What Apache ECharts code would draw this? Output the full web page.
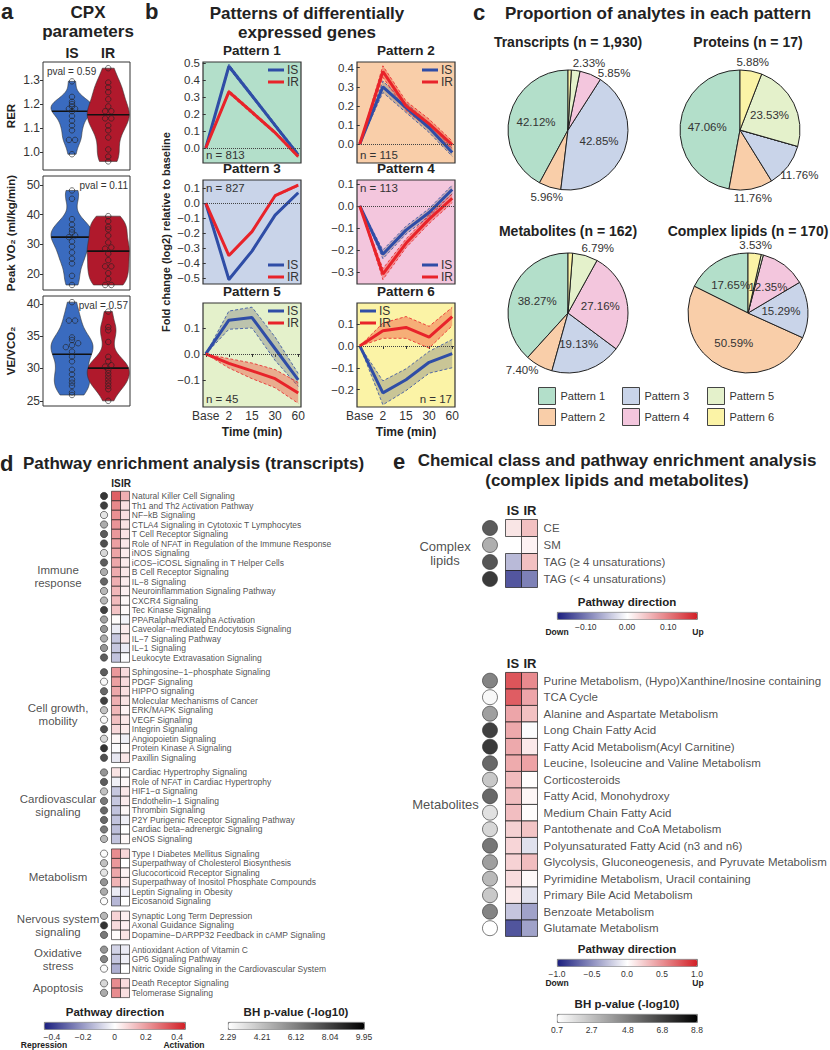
<!DOCTYPE html>
<html>
<head>
<meta charset="utf-8">
<title>Exercise multi-omics figure</title>
<script src="https://cdn.jsdelivr.net/npm/echarts@6.0.0/dist/echarts.min.js"></script>
<style>
  html, body { margin: 0; padding: 0; background: #fff; }
  #page { position: relative; width: 830px; height: 1050px; }
  .layer { position: absolute; left: 0; top: 0; width: 830px; height: 1050px; }
</style>
</head>
<body>
<div id="page">
  <div class="layer" id="panelA"></div>
  <div class="layer" id="panelB"></div>
  <div class="layer" id="panelC"></div>
  <div class="layer" id="panelD"></div>
  <div class="layer" id="panelE"></div>
</div>
<script>
// ======== data: a (CPX parameters) ========
const cpxGroups = ['IS', 'IR'];
const rerIS = [1.295, 1.23, 1.21, 1.20, 1.19, 1.18, 1.18, 1.17, 1.15, 1.13, 1.11, 1.09, 1.05, 1.05, 0.99];
const rerIR = [1.35, 1.29, 1.27, 1.25, 1.22, 1.19, 1.17, 1.17, 1.14, 1.14, 1.11, 1.09, 1.06, 1.01, 0.98, 0.96];
const vo2IS = [48.2, 45.4, 38.5, 36.6, 35.0, 34.0, 33.0, 32.4, 30.9, 29.2, 27.2, 25.1, 23.5, 19.3, 16.2];
const vo2IR = [39.5, 37.8, 35.9, 35.0, 32.9, 30.6, 28.9, 28.5, 26.8, 24.6, 22.5, 22.5, 20.2, 18.2, 16.2, 16.2];
const veIS = [40.25, 37.4, 37.4, 34.8, 34.4, 33.9, 33.6, 33.3, 32.6, 31.8, 31.1, 29.8, 29.1, 28.3, 27.8, 27.3, 26.3, 25.9];
const veIR = [38.8, 36.4, 35.9, 34.1, 31.8, 31.1, 30.5, 30.3, 29.8, 29.3, 28.8, 28.3, 27.8, 27.3, 26.8, 25.0];
const cpxNames = ['RER', 'Peak VO\u2082 (ml/kg/min)', 'VE/VCO\u2082'];
const cpxPvals = ['pval = 0.59', 'pval = 0.11', 'pval = 0.57'];
const rerTicks = [1.0, 1.1, 1.2, 1.3];
const vo2Ticks = [20, 30, 40, 50];
const veTicks = [25, 30, 35, 40];

// ======== data: b (expression patterns) ========
const timeLabels = ['Base', '2', '15', '30', '60'];
const p1IS = [0, 0.48, 0.307, 0.133, -0.04],  p1ISse = [0, 0.012, 0.01, 0.01, 0.01];
const p1IR = [0, 0.33, 0.21, 0.09, -0.05],    p1IRse = [0, 0.01, 0.01, 0.008, 0.008];
const p2IS = [0, 0.30, 0.19, 0.085, -0.045],  p2ISse = [0, 0.03, 0.025, 0.025, 0.02];
const p2IR = [0, 0.38, 0.20, 0.105, -0.005],  p2IRse = [0, 0.03, 0.025, 0.025, 0.02];
const p3IS = [0, -0.51, -0.32, -0.08, 0.07],  p3ISse = [0, 0.006, 0.006, 0.006, 0.006];
const p3IR = [0, -0.35, -0.19, 0.05, 0.12],   p3IRse = [0, 0.006, 0.006, 0.006, 0.006];
const p4IS = [0, -0.22, -0.11, -0.03, 0.075], p4ISse = [0, 0.02, 0.018, 0.018, 0.02];
const p4IR = [0, -0.31, -0.17, -0.06, 0.035], p4IRse = [0, 0.025, 0.02, 0.02, 0.02];
const p5IS = [0, 0.13, 0.14, 0.02, -0.10],    p5ISse = [0, 0.035, 0.04, 0.045, 0.025];
const p5IR = [0, -0.036, -0.065, -0.095, -0.15], p5IRse = [0, 0.018, 0.03, 0.035, 0.04];
const p6IS = [0, -0.215, -0.155, -0.075, -0.035], p6ISse = [0, 0.055, 0.05, 0.05, 0.065];
const p6IR = [0, 0.07, 0.085, 0.04, 0.135],   p6IRse = [0, 0.035, 0.05, 0.05, 0.042];
const patternTitles = ['Pattern 1', 'Pattern 2', 'Pattern 3', 'Pattern 4', 'Pattern 5', 'Pattern 6'];
const patternN = ['n = 813', 'n = 115', 'n = 827', 'n = 113', 'n = 45', 'n = 17'];
const bYMin = [-0.088, -0.1, -0.54, -0.355, -0.204, -0.28];
const bYMax = [0.505, 0.43, 0.155, 0.118, 0.196, 0.197];
const bYTicks = [[0, 0.1, 0.2, 0.3, 0.4, 0.5], [0, 0.1, 0.2, 0.3, 0.4], [-0.5, -0.4, -0.3, -0.2, -0.1, 0, 0.1],
                 [-0.3, -0.2, -0.1, 0, 0.1], [-0.1, 0, 0.1], [-0.2, -0.1, 0, 0.1]];

// ======== data: c (proportions, %) ========
const patternNames = ['Pattern 1', 'Pattern 2', 'Pattern 3', 'Pattern 4', 'Pattern 5', 'Pattern 6'];
const transcriptsPct = [42.12, 5.96, 42.85, 5.85, 2.33, 0.88];
const proteinsPct    = [47.06, 11.76, 11.76, 0, 23.53, 5.88];
const metabolitesPct = [38.27, 7.40, 19.13, 27.16, 6.79, 1.23];
const lipidsPct      = [17.65, 50.59, 15.29, 12.35, 0.59, 3.53];
const pieTitles = ['Transcripts (n = 1,930)', 'Proteins (n = 17)', 'Metabolites (n = 162)', 'Complex lipids (n = 170)'];

// ======== data: d (pathway enrichment, transcripts) ========
const dGroups = ['Immune\nresponse', 'Cell growth,\nmobility', 'Cardiovascular\nsignaling', 'Metabolism',
                 'Nervous system\nsignaling', 'Oxidative\nstress', 'Apoptosis'];
const dGroupSizes = [18, 10, 8, 6, 3, 3, 2];
const dPathways = [
  'Natural Killer Cell Signaling', 'Th1 and Th2 Activation Pathway', 'NF\u2212kB Signaling',
  'CTLA4 Signaling in Cytotoxic T Lymphocytes', 'T Cell Receptor Signaling',
  'Role of NFAT in Regulation of the Immune Response', 'iNOS Signaling', 'iCOS\u2212iCOSL Signaling in T Helper Cells',
  'B Cell Receptor Signaling', 'IL\u22128 Signaling', 'Neuroinflammation Signaling Pathway', 'CXCR4 Signaling',
  'Tec Kinase Signaling', 'PPARalpha/RXRalpha Activation', 'Caveolar\u2212mediated Endocytosis Signaling',
  'IL\u22127 Signaling Pathway', 'IL\u22121 Signaling', 'Leukocyte Extravasation Signaling',
  'Sphingosine\u22121\u2212phosphate Signaling', 'PDGF Signaling', 'HIPPO signaling', 'Molecular Mechanisms of Cancer',
  'ERK/MAPK Signaling', 'VEGF Signaling', 'Integrin Signaling', 'Angiopoietin Signaling',
  'Protein Kinase A Signaling', 'Paxillin Signaling',
  'Cardiac Hypertrophy Signaling', 'Role of NFAT in Cardiac Hypertrophy', 'HIF1\u2212\u03b1 Signaling',
  'Endothelin\u22121 Signaling', 'Thrombin Signaling', 'P2Y Purigenic Receptor Signaling Pathway',
  'Cardiac beta\u2212adrenergic Signaling', 'eNOS Signaling',
  'Type I Diabetes Mellitus Signaling', 'Superpathway of Cholesterol Biosynthesis', 'Glucocorticoid Receptor Signaling',
  'Superpathway of Inositol Phosphate Compounds', 'Leptin Signaling in Obesity', 'Eicosanoid Signaling',
  'Synaptic Long Term Depression', 'Axonal Guidance Signaling', 'Dopamine\u2212DARPP32 Feedback in cAMP Signaling',
  'Antioxidant Action of Vitamin C', 'GP6 Signaling Pathway', 'Nitric Oxide Signaling in the Cardiovascular System',
  'Death Receptor Signaling', 'Telomerase Signaling'
];
const dIS = [0.40, 0.30, 0.28, 0.27, 0.26, 0.24, 0.23, 0.22, 0.21, 0.20, 0.18, 0.17, 0.15, 0.01, -0.05, -0.14, -0.14, -0.15,
             0.26, 0.24, 0.22, 0.20, 0.18, 0.16, 0.10, 0.02, -0.01, -0.06,
             0.07, -0.04, -0.14, -0.14, -0.15, -0.15, -0.16, -0.15,
             0.29, 0.26, 0.22, 0.19, -0.05, -0.18,
             0.11, 0.09, 0.01,
             -0.11, -0.14, -0.20,
             0.29, 0.29];
const dIR = [0.20, 0.08, 0.08, 0.07, 0.07, 0.06, 0.05, 0.05, 0.06, 0.05, 0.04, 0.02, 0.015, -0.03, 0.05, 0.06, -0.05, -0.01,
             0.09, 0.09, 0.08, 0.07, 0.03, 0.06, 0.05, -0.04, 0.015, 0.06,
             0.01, 0.02, 0.06, 0.05, 0.02, -0.04, 0.0, 0.02,
             0.10, 0.0, 0.03, 0.05, -0.04, 0.0,
             0.04, 0.04, 0.07,
             -0.05, -0.04, 0.0,
             0.09, 0.08];
const dPval = [9.8, 9.5, 3.3, 5.4, 8.4, 8.9, 3.8, 8.4, 5.4, 8.0, 5.0, 5.0, 9.4, 5.8, 6.3, 5.4, 6.3, 8.4,
               8.4, 2.5, 8.0, 9.4, 4.6, 2.5, 8.9, 3.8, 9.95, 8.9,
               6.3, 8.4, 4.6, 7.3, 8.0, 8.0, 7.3, 5.0,
               2.4, 4.6, 3.3, 6.3, 5.4, 2.4,
               5.0, 9.95, 7.3,
               6.3, 6.9, 2.4,
               3.8, 5.4];
const dDirTicks = [-0.4, -0.2, 0, 0.2, 0.4];
const dBhTicks = [2.29, 4.21, 6.12, 8.04, 9.95];

// ======== data: e (complex lipids and metabolites) ========
const lipidClasses = ['CE', 'SM', 'TAG (\u2265 4 unsaturations)', 'TAG (< 4 unsaturations)'];
const lipidIS = [0.025, null, -0.065, -0.16];
const lipidIR = [0.06, 0.012, 0.06, -0.12];
const lipidPval = [7.2, 3.9, 7.4, 8.5];
const metPathways = [
  'Purine Metabolism, (Hypo)Xanthine/Inosine containing', 'TCA Cycle', 'Alanine and Aspartate Metabolism',
  'Long Chain Fatty Acid', 'Fatty Acid Metabolism(Acyl Carnitine)', 'Leucine, Isoleucine and Valine Metabolism',
  'Corticosteroids', 'Fatty Acid, Monohydroxy', 'Medium Chain Fatty Acid', 'Pantothenate and CoA Metabolism',
  'Polyunsaturated Fatty Acid (n3 and n6)', 'Glycolysis, Gluconeogenesis, and Pyruvate Metabolism',
  'Pyrimidine Metabolism, Uracil containing', 'Primary Bile Acid Metabolism', 'Benzoate Metabolism', 'Glutamate Metabolism'
];
const metIS = [0.95, 0.90, 0.50, 0.48, 0.48, 0.47, 0.38, 0.37, 0.36, 0.26, 0.23, 0.25, 0.20, 0.13, -0.32, -0.95];
const metIR = [0.65, 0.50, 0.35, -0.02, 0.12, 0.52, 0.01, 0.05, 0.02, 0.33, -0.17, 0.37, 0.04, -0.17, -0.52, -0.52];
const metPval = [5.6, 1.0, 4.5, 8.3, 8.5, 6.7, 2.9, 6.7, 1.9, 2.3, 6.1, 4.5, 3.5, 2.9, 5.6, 0.7];
const lipidDirTicks = [-0.1, 0, 0.1];
const metDirTicks = [-1, -0.5, 0, 0.5, 1];
const eBhTicks = [0.7, 2.7, 4.8, 6.8, 8.8];

// ======== styles ========
const FONT = '"Liberation Sans", Arial, Helvetica, sans-serif';
const INK = '#222';
const MINUS = '\u2212';
const IS_FILL = '#3a6bbf', IR_FILL = '#b0192c';
const IS_LINE = '#2f4da6', IR_LINE = '#e8232a';
const IS_BAND = 'rgba(128,128,128,0.4)', IR_BAND = 'rgba(240,70,50,0.4)';
const patternColors = ['#b3dfca', '#f9cea9', '#c9d4e9', '#f3c6dd', '#e4f1cb', '#fbf3a6'];
const dirColors = ['#1b1f7f', '#ffffff', '#d21f26'];
const greyColors = ['#ffffff', '#000000'];

function signed(v, d){ return (v < 0 ? MINUS : '') + Math.abs(v).toFixed(d); }

function txt(x, y, text, size, opts){
  opts = opts || {};
  const font = (opts.bold ? 'bold ' : '') + size + 'px ' + FONT;
  return { type:'text', x:x, y:y, rotation: opts.rot || 0, silent:true, z:50,
    style:{ text:text, fill: opts.color || INK, font:font,
            align: opts.align || 'center', verticalAlign:'middle',
            textAlign: opts.align || 'center', textVerticalAlign:'middle' } };
}

function makeChart(id){ return echarts.init(document.getElementById(id), null, { renderer:'svg' }); }

// ======== helpers for violins ========
function quantile(s, p){ const h = (s.length - 1) * p, lo = Math.floor(h); return s[lo] + (h - lo) * (s[Math.min(lo + 1, s.length - 1)] - s[lo]); }
function median(v){ return quantile([...v].sort((a, b) => a - b), 0.5); }
function bwNrd0(v){
  const n = v.length, m = v.reduce((a, b) => a + b, 0) / n;
  const sd = Math.sqrt(v.reduce((a, b) => a + (b - m) * (b - m), 0) / (n - 1));
  const s = [...v].sort((a, b) => a - b);
  const iqr = quantile(s, 0.75) - quantile(s, 0.25);
  const lo = Math.min(sd, iqr / 1.34) || sd;
  return 0.9 * lo * Math.pow(n, -0.2);
}
function violinShape(v, adjust){
  const bw = bwNrd0(v) * adjust, lo = Math.min(...v), hi = Math.max(...v), N = 80;
  const pts = [];
  for (let i = 0; i <= N; i++){
    const y = lo + (hi - lo) * i / N;
    let d = 0; v.forEach(x => { const z = (y - x) / bw; d += Math.exp(-0.5 * z * z); });
    pts.push([y, d]);
  }
  const mx = Math.max(...pts.map(p => p[1]));
  return pts.map(p => [p[0], p[1] / mx]);
}
function densAt(shape, y){
  for (let i = 1; i < shape.length; i++){
    if (shape[i][0] >= y){ const t = (y - shape[i-1][0]) / (shape[i][0] - shape[i-1][0]); return shape[i-1][1] + t * (shape[i][1] - shape[i-1][1]); }
  }
  return shape[shape.length - 1][1];
}
// side-by-side offsets for points with nearly equal values
function dodge(vals, tol, step){
  const order = vals.map((v, i) => [v, i]).sort((a, b) => a[0] - b[0]);
  const off = new Array(vals.length).fill(0);
  let grp = [order[0]];
  const flush = () => { const k = grp.length; grp.forEach((g, j) => { off[g[1]] = (j - (k - 1) / 2) * step; }); };
  for (let i = 1; i < order.length; i++){
    if (order[i][0] - grp[grp.length - 1][0] < tol) grp.push(order[i]); else { flush(); grp = [order[i]]; }
  }
  flush();
  return off;
}

// ======== Panel a ========
function buildA(){
  const aTop = [62, 176, 296], aH = [108, 114, 110];
  const aMin = [0.924, 14.5, 24.2], aMax = [1.376, 53.1, 41.2];
  const sets = [[rerIS, rerIR], [vo2IS, vo2IR], [veIS, veIR]];
  const ticks = [rerTicks, vo2Ticks, veTicks];
  const fmt = [v => v.toFixed(1), v => String(v), v => String(v)];
  const HW = 0.58;
  const grid = [], xAxis = [], yAxis = [], series = [];
  sets.forEach((pair, k) => {
    grid.push({ left:43, width:87, top:aTop[k], height:aH[k], show:true, borderColor:'#333', borderWidth:1, backgroundColor:'transparent' });
    xAxis.push({ gridIndex:k, type:'value', min:0.2, max:2.6, show:false });
    yAxis.push({ gridIndex:k, type:'value', min:aMin[k], max:aMax[k], splitLine:{show:false}, axisLine:{show:false},
      axisTick:{ show:true, length:3, lineStyle:{color:'#333'}, customValues:ticks[k] },
      axisLabel:{ fontSize:12, color:'#333', margin:3, customValues:ticks[k], formatter:fmt[k] },
      name:cpxNames[k], nameLocation:'middle', nameGap:26,
      nameTextStyle:{ fontSize:11.5, fontWeight:'bold', color:INK } });
    pair.forEach((vals, g) => {
      const cx = g + 1;
      const fill = g === 0 ? IS_FILL : IR_FILL;
      const shape = violinShape(vals, 0.8);
      const med = median(vals);
      series.push({ type:'custom', name:cpxGroups[g], xAxisIndex:k, yAxisIndex:k, silent:true, clip:false, z:2,
        data:[[cx, med]],
        renderItem: (params, api) => {
          const right = shape.map(p => api.coord([cx + p[1] * HW, p[0]]));
          const left = shape.map(p => api.coord([cx - p[1] * HW, p[0]])).reverse();
          const dm = densAt(shape, med);
          const a = api.coord([cx - dm * HW, med]), b = api.coord([cx + dm * HW, med]);
          return { type:'group', children:[
            { type:'polygon', shape:{ points:right.concat(left) }, style:{ fill:fill, stroke:'#333', lineWidth:0.6 } },
            { type:'line', shape:{ x1:a[0], y1:a[1], x2:b[0], y2:b[1] }, style:{ stroke:'#111', lineWidth:1.6 } }
          ]};
        } });
      const off = dodge(vals, (aMax[k] - aMin[k]) * 0.02, 0.17);
      series.push({ type:'scatter', xAxisIndex:k, yAxisIndex:k, silent:true, z:3, symbol:'circle', symbolSize:5.5,
        itemStyle:{ color:'rgba(0,0,0,0)', borderColor:'#222', borderWidth:0.8 },
        data: vals.map((v, i) => [cx + off[i], v]) });
    });
  });
  const graphic = [
    txt(1, 11, 'a', 22, { bold:true, align:'left' }),
    txt(88, 12, 'CPX', 17, { bold:true }),
    txt(88, 31, 'parameters', 17, { bold:true }),
    txt(72, 53, cpxGroups[0], 14, { bold:true }),
    txt(108, 53, cpxGroups[1], 14, { bold:true }),
    txt(47, aTop[0] + 9, cpxPvals[0], 10, { align:'left', color:'#333' }),
    txt(128, aTop[1] + 9, cpxPvals[1], 10, { align:'right', color:'#333' }),
    txt(128, aTop[2] + 9, cpxPvals[2], 10, { align:'right', color:'#333' })
  ];
  makeChart('panelA').setOption({ animation:false, textStyle:{ fontFamily:FONT }, grid, xAxis, yAxis, series, graphic });
}

// ======== Panel b ========
function buildB(){
  const bLeft = [203, 357], bTop = [62, 180, 303], bH = [101, 104, 104], bW = 98;
  const isM = [p1IS, p2IS, p3IS, p4IS, p5IS, p6IS], isS = [p1ISse, p2ISse, p3ISse, p4ISse, p5ISse, p6ISse];
  const irM = [p1IR, p2IR, p3IR, p4IR, p5IR, p6IR], irS = [p1IRse, p2IRse, p3IRse, p4IRse, p5IRse, p6IRse];
  const legendPlace = ['tr', 'tr', 'br', 'br', 'tr', 'tl'];
  const nPlace = ['bl', 'bl', 'tl', 'tl', 'bl', 'br'];
  const grid = [], xAxis = [], yAxis = [], series = [], legend = [], graphic = [];
  const xTicks = [0, 1, 2, 3, 4];
  for (let k = 0; k < 6; k++){
    const col = k % 2, row = Math.floor(k / 2);
    const L = bLeft[col], T = bTop[row], H = bH[row];
    const bottomRow = row === 2;
    grid.push({ left:L, top:T, width:bW, height:H, show:true, backgroundColor:patternColors[k], borderColor:'#333', borderWidth:1.2 });
    xAxis.push({ gridIndex:k, type:'value', min:-0.12, max:4.12, splitLine:{show:false}, axisLine:{show:false},
      axisTick:{ show:bottomRow, length:3, lineStyle:{color:'#333'}, customValues:xTicks },
      axisLabel:{ show:bottomRow, customValues:xTicks, formatter:v => timeLabels[Math.round(v)], fontSize:12, color:'#333', margin:3 },
      name: bottomRow ? 'Time (min)' : '', nameLocation:'middle', nameGap:19,
      nameTextStyle:{ fontSize:12, fontWeight:'bold', color:INK } });
    yAxis.push({ gridIndex:k, type:'value', min:bYMin[k], max:bYMax[k], splitLine:{show:false}, axisLine:{show:false},
      axisTick:{ show:true, length:3, lineStyle:{color:'#333'}, customValues:bYTicks[k] },
      axisLabel:{ customValues:bYTicks[k], formatter:v => signed(v, 1), fontSize:11.5, color:'#333', margin:3 } });
    [[isM[k], isS[k], IS_BAND, IS_LINE], [irM[k], irS[k], IR_BAND, IR_LINE]].forEach(([m, s, band, line], g) => {
      const ribbon = { type:'custom', xAxisIndex:k, yAxisIndex:k, silent:true, z:2, clip:true, data:[[0, 0]],
        renderItem:(params, api) => {
          const up = m.map((v, i) => api.coord([i, v + s[i]]));
          const dn = m.map((v, i) => api.coord([i, v - s[i]]));
          return { type:'group', children:[
            { type:'polygon', shape:{ points:up.concat(dn.slice().reverse()) }, style:{ fill:band } },
            { type:'polyline', shape:{ points:up }, style:{ stroke:line, lineWidth:0.8, lineDash:[3, 2], fill:null } },
            { type:'polyline', shape:{ points:dn }, style:{ stroke:line, lineWidth:0.8, lineDash:[3, 2], fill:null } }
          ]};
        } };
      if (g === 0) ribbon.markLine = { silent:true, symbol:'none', label:{show:false}, animation:false,
        lineStyle:{ type:'dotted', color:'#444', width:1 }, data:[{ yAxis:0 }] };
      series.push(ribbon);
    });
    [[isM[k], IS_LINE, 'IS'], [irM[k], IR_LINE, 'IR']].forEach(([m, c, nm]) => {
      series.push({ type:'line', name:nm, xAxisIndex:k, yAxisIndex:k, silent:true, z:3, symbol:'none',
        itemStyle:{ color:c }, lineStyle:{ color:c, width:3 }, data:m.map((v, i) => [i, v]) });
    });
    // legend
    const lg = { data:['IS', 'IR'], orient:'vertical', selectedMode:false, icon:'rect', itemWidth:16, itemHeight:3,
      itemGap:0, padding:0, textStyle:{ fontSize:12, color:'#333', lineHeight:11, padding:[0, 0, 0, -2] } };
    const pl = legendPlace[k];
    if (pl[1] === 'r') lg.right = 830 - (L + bW) + 2; else lg.left = L + 3;
    lg.top = pl[0] === 't' ? T + 2 : T + H - 25;
    legend.push(lg);
    // n label and title
    const np = nPlace[k];
    const ny = np[0] === 't' ? T + 8 : T + H - 8;
    if (np[1] === 'l') graphic.push(txt(L + 3, ny, patternN[k], 11.5, { align:'left', color:'#333' }));
    else graphic.push(txt(L + bW - 3, ny, patternN[k], 11.5, { align:'right', color:'#333' }));
    graphic.push(txt(L + bW / 2, T - 12, patternTitles[k], 13.5, { bold:true }));
  }
  graphic.push(txt(145, 11, 'b', 22, { bold:true, align:'left' }));
  graphic.push(txt(307, 13, 'Patterns of differentially', 17, { bold:true }));
  graphic.push(txt(307, 32, 'expressed genes', 17, { bold:true }));
  graphic.push(txt(166, 232, 'Fold change (log2) relative to baseline', 11, { bold:true, rot:Math.PI / 2 }));
  makeChart('panelB').setOption({ animation:false, textStyle:{ fontFamily:FONT }, grid, xAxis, yAxis, series, legend, graphic });
}

// ======== Panel c ========
function buildC(){
  const pies = [transcriptsPct, proteinsPct, metabolitesPct, lipidsPct];
  const centers = [[568, 130], [740, 130], [568, 313], [748, 313]];
  const titlePos = [[568, 42], [748, 42], [568, 231], [748, 231]];
  const R = 60;
  // label placement: 'in' = inside slice, 'out' = outside, '' = none; nudge = degrees
  const place = [['in', 'out', 'in', 'out', 'out', ''], ['in', 'out', 'out', '', 'in', 'out'],
                 ['in', 'out', 'in', 'in', 'out', ''], ['in', 'in', 'in', 'in', '', 'out']];
  const nudge = [[0, 0, 0, -17, -10, 0], [0, 0, 0, 0, 0, 0], [0, -10, 0, 0, -8, 0], [0, 0, 0, 0, 0, 0]];
  const series = pies.map((vals, s) => {
    const total = vals.reduce((a, b) => a + b, 0);
    const cum = []; let acc = 0; vals.forEach(v => { cum.push(acc + v / 2); acc += v; });
    return { type:'pie', center:centers[s], radius:R, startAngle:90, clockwise:false, silent:true,
      avoidLabelOverlap:false, itemStyle:{ borderColor:'#222', borderWidth:1 },
      label:{ position:'inside', fontSize:11.5, color:'#333', formatter:p => p.value.toFixed(2) + '%' },
      labelLine:{ show:false },
      data: vals.map((v, i) => ({ name:patternNames[i], value:v, label:{ show: place[s][i] !== '' } })),
      labelLayout: params => {
        const i = params.dataIndex;
        if (place[s][i] !== 'out') return {};
        const th = (90 + cum[i] / total * 360 + nudge[s][i]) * Math.PI / 180;
        // labels near the top/bottom sit closer to the rim than those at the sides
        const dist = R + 8 + 8 * Math.abs(Math.cos(th));
        return { x: centers[s][0] + dist * Math.cos(th), y: centers[s][1] - dist * Math.sin(th),
                 align:'center', verticalAlign:'middle' };
      } };
  });
  const legendCols = [[0, 1], [2, 3], [4, 5]], legendLeft = [538, 622, 707];
  const legend = legendCols.map((c, j) => ({ data:c.map(i => patternNames[i]), orient:'vertical', left:legendLeft[j], top:387,
    icon:'rect', itemWidth:17, itemHeight:17, itemGap:3, padding:0, selectedMode:false,
    itemStyle:{ borderColor:'#444', borderWidth:1 }, textStyle:{ fontSize:11, color:'#333' } }));
  const graphic = [
    txt(473, 12, 'c', 22, { bold:true, align:'left' }),
    txt(658, 13, 'Proportion of analytes in each pattern', 17, { bold:true })
  ];
  pieTitles.forEach((t, s) => graphic.push(txt(titlePos[s][0], titlePos[s][1], t, 14, { bold:true })));
  makeChart('panelC').setOption({ animation:false, color:patternColors, textStyle:{ fontFamily:FONT }, series, legend, graphic });
}

// ======== Panel d ========
function buildD(){
  const GAP = 0.55;
  const rowY = [], rowGroup = [];
  dGroupSizes.forEach((n, g) => { for (let i = 0; i < n; i++){ rowY.push(rowY.length + g * GAP); rowGroup.push(g); } });
  const groupMid = dGroups.map((_, g) => { const ys = rowY.filter((y, r) => rowGroup[r] === g); return (ys[0] + ys[ys.length - 1]) / 2; });
  const cells = [];
  dPathways.forEach((_, r) => { cells.push([0, rowY[r], dIS[r]]); cells.push([1, rowY[r], dIR[r]]); });
  const grid = [
    { left:44, top:486.5, width:342, height:522.5 },
    { left:44, top:1022, width:141, height:7 },
    { left:228, top:1022, width:136, height:7 }
  ];
  const xAxis = [
    { gridIndex:0, type:'value', min:-8, max:30, show:false },
    { gridIndex:1, type:'value', min:-0.45, max:0.45, splitLine:{show:false}, axisLine:{show:false}, axisTick:{show:false},
      axisLabel:{ customValues:dDirTicks, formatter:v => v === 0 ? '0' : signed(v, 1), fontSize:8.5, color:'#333', margin:3 } },
    { gridIndex:2, type:'value', min:2.29, max:9.95, splitLine:{show:false}, axisLine:{show:false}, axisTick:{show:false},
      axisLabel:{ customValues:dBhTicks, formatter:v => v.toFixed(2), fontSize:8.5, color:'#333', margin:3 } }
  ];
  const yAxis = [
    { gridIndex:0, type:'value', min:-1, max:54, inverse:true, show:false },
    { gridIndex:1, type:'value', show:false }, { gridIndex:2, type:'value', show:false }
  ];
  const series = [
    { type:'scatter', silent:true, symbol:'rect', symbolSize:[9, 9.5], z:3,
      itemStyle:{ borderColor:'#222', borderWidth:0.8 }, data:cells },
    { type:'scatter', silent:true, symbol:'circle', symbolSize:7.3, z:3,
      itemStyle:{ borderColor:'#333', borderWidth:0.8 }, data:dPathways.map((_, r) => [-1.33, rowY[r], dPval[r]]) },
    { type:'scatter', silent:true, symbolSize:1, itemStyle:{ color:'rgba(0,0,0,0)' },
      label:{ show:true, position:'right', distance:0, formatter:'{b}', fontSize:8.5, color:INK },
      data:dPathways.map((nm, r) => ({ name:nm, value:[1.7, rowY[r]] })) },
    { type:'scatter', silent:true, symbolSize:1, itemStyle:{ color:'rgba(0,0,0,0)' },
      label:{ show:true, position:'inside', formatter:'{b}', fontSize:11.5, lineHeight:13, color:INK, align:'center' },
      data:dGroups.map((nm, g) => ({ name:nm, value:[-6.44, groupMid[g]] })) }
  ];
  const visualMap = [
    { type:'continuous', seriesIndex:0, dimension:2, min:-0.45, max:0.45, inRange:{ color:dirColors },
      orient:'horizontal', left:44, top:1022, itemWidth:7, itemHeight:141, calculable:false, hoverLink:false,
      padding:0, text:null, borderColor:'#555', borderWidth:0.8 },
    { type:'continuous', seriesIndex:1, dimension:2, min:2.29, max:9.95, inRange:{ color:greyColors },
      orient:'horizontal', left:228, top:1022, itemWidth:7, itemHeight:136, calculable:false, hoverLink:false,
      padding:0, text:null, borderColor:'#555', borderWidth:0.8 }
  ];
  const graphic = [
    txt(0, 463, 'd', 22, { bold:true, align:'left' }),
    txt(23, 463, 'Pathway enrichment analysis (transcripts)', 17, { bold:true, align:'left' }),
    txt(116, 483, 'IS', 10, { bold:true }),
    txt(126, 483, 'IR', 10, { bold:true }),
    txt(115, 1012, 'Pathway direction', 11.5, { bold:true }),
    txt(296, 1012, 'BH p-value (-log10)', 11.5, { bold:true }),
    txt(44, 1045, 'Repression', 8.5, { bold:true }),
    txt(184, 1045, 'Activation', 8.5, { bold:true })
  ];
  makeChart('panelD').setOption({ animation:false, textStyle:{ fontFamily:FONT }, grid, xAxis, yAxis, series, visualMap, graphic });
}

// ======== Panel e ========
function buildE(){
  const lipCells = [], metCells = [];
  lipidClasses.forEach((_, r) => {
    if (lipidIS[r] !== null) lipCells.push([0, r, lipidIS[r]]);
    if (lipidIR[r] !== null) lipCells.push([1, r, lipidIR[r]]);
  });
  metPathways.forEach((_, r) => { metCells.push([0, r, metIS[r]]); metCells.push([1, r, metIR[r]]); });
  const grid = [
    { left:417.5, top:511, width:320, height:85 },
    { left:417.5, top:664.2, width:320, height:280.5 },
    { left:557, top:612, width:140, height:7 },
    { left:557, top:959, width:140, height:7 },
    { left:557, top:1014, width:140, height:8 }
  ];
  const tickAxis = (gi, mn, mx, vals, d) => ({ gridIndex:gi, type:'value', min:mn, max:mx, splitLine:{show:false},
    axisLine:{show:false}, axisTick:{show:false},
    axisLabel:{ customValues:vals, formatter:v => signed(v, d), fontSize:8.5, color:'#333', margin:3 } });
  const xAxis = [
    { gridIndex:0, type:'value', min:-6, max:14, show:false },
    { gridIndex:1, type:'value', min:-6, max:14, show:false },
    tickAxis(2, -0.17, 0.17, lipidDirTicks, 2),
    tickAxis(3, -1, 1, metDirTicks, 1),
    tickAxis(4, 0.7, 8.8, eBhTicks, 1)
  ];
  const yAxis = [
    { gridIndex:0, type:'value', min:-1, max:4, inverse:true, show:false },
    { gridIndex:1, type:'value', min:-1, max:16, inverse:true, show:false },
    { gridIndex:2, type:'value', show:false }, { gridIndex:3, type:'value', show:false }, { gridIndex:4, type:'value', show:false }
  ];
  const rowLabels = (gi, names) => ({ type:'scatter', xAxisIndex:gi, yAxisIndex:gi, silent:true, symbolSize:1,
    itemStyle:{ color:'rgba(0,0,0,0)' },
    label:{ show:true, position:'right', distance:0, formatter:'{b}', fontSize:11.5, color:INK },
    data:names.map((nm, r) => ({ name:nm, value:[1.85, r] })) });
  const series = [
    { type:'scatter', xAxisIndex:0, yAxisIndex:0, silent:true, symbol:'rect', symbolSize:[16, 17], z:3,
      itemStyle:{ borderColor:'#222', borderWidth:0.9 }, data:lipCells },
    { type:'scatter', xAxisIndex:1, yAxisIndex:1, silent:true, symbol:'rect', symbolSize:[16, 16.5], z:3,
      itemStyle:{ borderColor:'#222', borderWidth:0.9 }, data:metCells },
    { type:'scatter', xAxisIndex:0, yAxisIndex:0, silent:true, symbol:'circle', symbolSize:15,
      itemStyle:{ borderColor:'#333', borderWidth:0.8 }, data:lipidPval.map((p, r) => [-1.47, r, p]) },
    { type:'scatter', xAxisIndex:1, yAxisIndex:1, silent:true, symbol:'circle', symbolSize:15,
      itemStyle:{ borderColor:'#333', borderWidth:0.8 }, data:metPval.map((p, r) => [-1.47, r, p]) },
    rowLabels(0, lipidClasses),
    rowLabels(1, metPathways),
    { type:'scatter', xAxisIndex:0, yAxisIndex:0, silent:true, symbolSize:1, itemStyle:{ color:'rgba(0,0,0,0)' },
      label:{ show:true, position:'inside', formatter:'{b}', fontSize:13, lineHeight:14, color:INK, align:'center' },
      data:[{ name:'Complex\nlipids', value:[-4.28, 1.5] }] },
    { type:'scatter', xAxisIndex:1, yAxisIndex:1, silent:true, symbolSize:1, itemStyle:{ color:'rgba(0,0,0,0)' },
      label:{ show:true, position:'inside', formatter:'{b}', fontSize:13, color:INK, align:'center' },
      data:[{ name:'Metabolites', value:[-4.25, 7.5] }] }
  ];
  const vm = (si, mn, mx, colors, top, h) => ({ type:'continuous', seriesIndex:si, dimension:2, min:mn, max:mx,
    inRange:{ color:colors }, orient:'horizontal', left:557, top:top, itemWidth:h, itemHeight:140, calculable:false,
    hoverLink:false, padding:0, text:null, borderColor:'#555', borderWidth:0.8 });
  const visualMap = [
    vm(0, -0.17, 0.17, dirColors, 612, 7),
    vm(1, -1, 1, dirColors, 959, 7),
    vm([2, 3], 0.7, 8.8, greyColors, 1014, 8)
  ];
  const graphic = [
    txt(393, 461, 'e', 22, { bold:true, align:'left' }),
    txt(617, 460, 'Chemical class and pathway enrichment analysis', 17, { bold:true }),
    txt(617, 480, '(complex lipids and metabolites)', 17, { bold:true }),
    txt(513, 510, 'IS', 13, { bold:true }), txt(530, 510, 'IR', 13, { bold:true }),
    txt(513, 663, 'IS', 13, { bold:true }), txt(530, 663, 'IR', 13, { bold:true }),
    txt(627, 602, 'Pathway direction', 11.5, { bold:true }),
    txt(557, 632, 'Down', 8.5, { bold:true }), txt(698, 632, 'Up', 8.5, { bold:true }),
    txt(627, 949, 'Pathway direction', 11.5, { bold:true }),
    txt(557, 983, 'Down', 8.5, { bold:true }), txt(698, 983, 'Up', 8.5, { bold:true }),
    txt(627, 1004, 'BH p-value (-log10)', 11.5, { bold:true })
  ];
  makeChart('panelE').setOption({ animation:false, textStyle:{ fontFamily:FONT }, grid, xAxis, yAxis, series, visualMap, graphic });
}

buildA();
buildB();
buildC();
buildD();
buildE();
</script>
</body>
</html>
